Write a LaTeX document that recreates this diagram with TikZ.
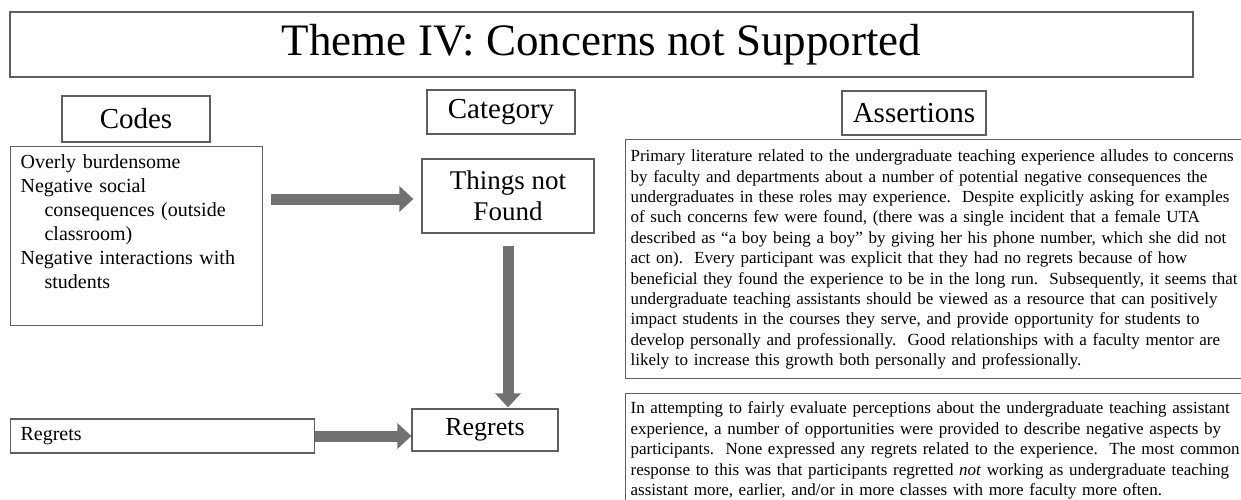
\documentclass[tikz,border=0pt]{standalone}
\usepackage{fontspec}
\setmainfont{Liberation Serif}
\usepackage{xcolor}
\usetikzlibrary{arrows.meta, positioning}
\definecolor{boxgray}{HTML}{5E5E5E}
\definecolor{arrowgray}{HTML}{717171}

\begin{document}
\begin{tikzpicture}[x=1pt, y=-1pt, line width=1.2pt, every node/.style={align=center, draw=boxgray, inner sep=0pt},
    headbox/.style={draw, rectangle, minimum width=148pt, minimum height=44pt, font=\fontsize{29}{33}\selectfont},
    listbox/.style={draw, rectangle, align=left, inner xsep=10pt, inner ysep=4pt, font=\fontsize{20}{24}\selectfont},
    assertbox/.style={draw, rectangle, align=left, text width=625pt, inner xsep=5pt, inner ysep=5pt, font=\fontsize{17}{20.4}\selectfont},
    blockarrow/.style={draw=arrowgray, line width=11pt, -{Triangle[length=14pt, width=25pt]}}]
        \useasboundingbox (0,0) rectangle (1241,500);
        \node (title) [draw, rectangle, line width=1.5pt, minimum width=1183pt, minimum height=65pt, font=\fontsize{45}{50}\selectfont] at (601.5,44.5) {Theme IV: Concerns not Supported};

        \node (codeshead) [headbox, minimum height=46pt] at (136,119) {Codes};
        \node (cathead) [headbox] at (501,112) {Category};
        \node (asserthead) [headbox, minimum width=144pt] at (914,113) {Assertions};

        \node (codelist) [listbox, anchor=north west, text width=232pt, text height=18pt, text depth=153pt] at (10,146) {Overly burdensome\\Negative social\\\hspace*{24pt}consequences (outside\\\hspace*{24pt}classroom)\\Negative interactions with\\\hspace*{24pt}students};
        \node (regretcode) [listbox, anchor=west, text width=284pt, minimum height=34pt] at (10,436) {Regrets};

        \node (things) [draw, rectangle, minimum width=172pt, minimum height=74pt, font=\fontsize{27}{31}\selectfont] at (508,196) {Things not\\Found};
        \node (regrets) [draw, rectangle, minimum width=146pt, minimum height=42pt, font=\fontsize{26}{30}\selectfont] at (485,430) {Regrets};

        \node (assertone) [assertbox, anchor=north west, text height=17pt, text depth=212pt] at (625,139) {Primary literature related to the undergraduate teaching experience alludes to concerns\\by faculty and departments about a number of potential negative consequences the\\undergraduates in these roles may experience.\ \ Despite explicitly asking for examples\\of such concerns few were found, (there was a single incident that a female UTA\\described as “a boy being a boy” by giving her his phone number, which she did not\\act on).\ \ Every participant was explicit that they had no regrets because of how\\beneficial they found the experience to be in the long run.\ \ Subsequently, it seems that\\undergraduate teaching assistants should be viewed as a resource that can positively\\impact students in the courses they serve, and provide opportunity for students to\\develop personally and professionally.\ \ Good relationships with a faculty mentor are\\likely to increase this growth both personally and professionally.};
        \node (asserttwo) [assertbox, below right=14pt and 0pt of assertone.south west, text height=15pt, text depth=110pt] {In attempting to fairly evaluate perceptions about the undergraduate teaching assistant\\experience, a number of opportunities were provided to describe negative aspects by\\participants.\ \ None expressed any regrets related to the experience.\ \ The most common\\response to this was that participants regretted \emph{not} working as undergraduate teaching\\assistant more, earlier, and/or in more classes with more faculty more often.};

        \draw[blockarrow, shorten <=8pt, shorten >=8pt] ([yshift=-3pt]codelist.east |- things.west) -- ([yshift=-3pt]things.west);
        \draw[blockarrow, shorten <=12pt, shorten >=1pt] (things.south) -- (things.south |- regrets.north);
        \draw[blockarrow] (regretcode.east) -- (regretcode.east -| regrets.west);
    \end{tikzpicture}
\end{document}
